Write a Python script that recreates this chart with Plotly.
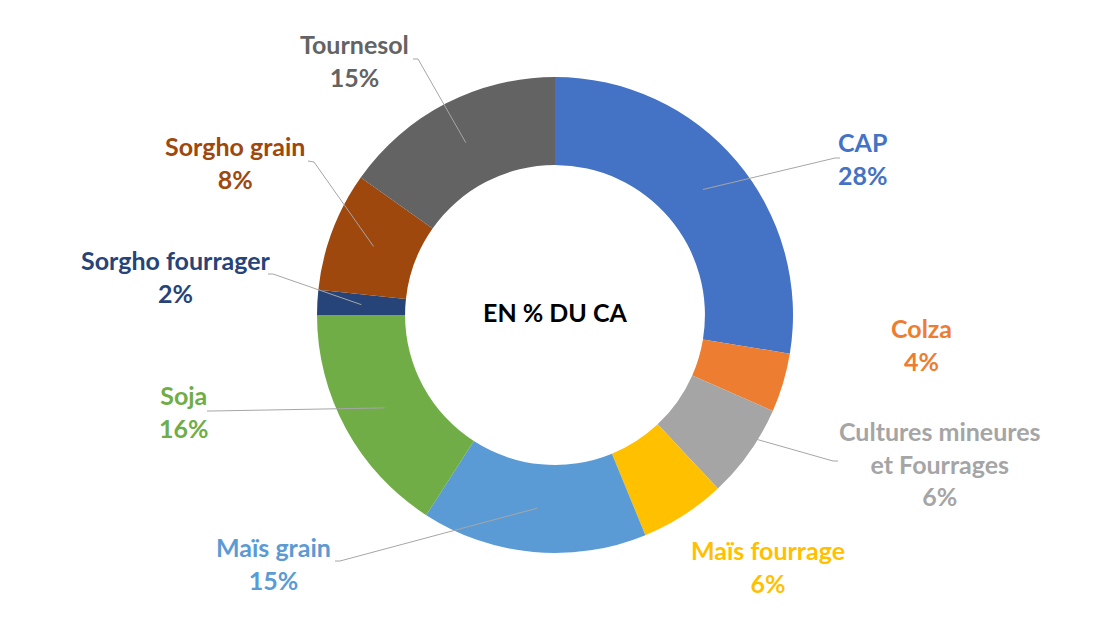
import math
import plotly.graph_objects as go

# ---- data ----
categories = ["CAP", "Colza", "Cultures mineures et Fourrages", "Maïs fourrage",
              "Maïs grain", "Soja", "Sorgho fourrager", "Sorgho grain", "Tournesol"]
label_text = ["CAP", "Colza", "Cultures mineures<br>et Fourrages", "Maïs fourrage",
              "Maïs grain", "Soja", "Sorgho fourrager", "Sorgho grain", "Tournesol"]
values = [27.6, 4.0, 6.4, 5.8, 15.3, 15.9, 1.7, 8.1, 15.2]
colors = ["#4472C4", "#ED7D31", "#A5A5A5", "#FFC000", "#5B9BD5",
          "#70AD47", "#264478", "#9E480E", "#636363"]
center_title = "EN % DU CA"

# ---- layout constants (pixels) ----
W, H = 1100, 619
CX, CY, R_OUT = 555, 315, 238
HOLE = 0.63
R_MID = R_OUT * (1 + HOLE) / 2

# text block centers
label_pos = [(863, 158), (921, 344), (940, 463), (768, 566), (273, 563),
             (184, 411), (176, 276), (235, 163), (354, 60)]
# leader start (label side) and stub end; None = no leader
leader = [((840, 158), (835, 158)), None, ((838, 461), (833, 461)), None,
          ((335, 561), (340, 561)), ((207, 411), (212, 411)),
          ((268, 274), (273, 274)), ((308, 161), (314, 162)),
          ((413, 59), (418, 59))]


def px(x, y):
    return x / W, 1 - y / H


fig = go.Figure(go.Pie(
    labels=categories, values=values, hole=HOLE, sort=False,
    direction="clockwise", rotation=0,
    marker=dict(colors=colors, line=dict(width=0)),
    textinfo="none", hoverinfo="label+percent", showlegend=False,
    domain=dict(x=[(CX - R_OUT) / W, (CX + R_OUT) / W],
                y=[1 - (CY + R_OUT) / H, 1 - (CY - R_OUT) / H]),
))

total = sum(values)
shapes = []
annotations = []
cum = 0.0
for i, v in enumerate(values):
    mid = (cum + v / 2) / total
    cum += v
    th = 2 * math.pi * mid
    ax_, ay_ = CX + R_MID * math.sin(th), CY - R_MID * math.cos(th)
    pct = round(100 * v / total)
    lx, ly = label_pos[i]
    x, y = px(lx, ly)
    annotations.append(dict(
        x=x, y=y, xref="paper", yref="paper", xanchor="center", yanchor="middle",
        showarrow=False, align="center",
        text=f"{label_text[i]}<br>{pct}%",
        font=dict(family="Lato", size=25, color=colors[i], weight="bold"),
    ))
    if leader[i] is not None:
        (sx, sy), (tx, ty) = leader[i]
        p = [px(sx, sy), px(tx, ty), px(ax_, ay_)]
        path = "M {} {} L {} {} L {} {}".format(p[0][0], p[0][1], p[1][0], p[1][1], p[2][0], p[2][1])
        shapes.append(dict(type="path", xref="paper", yref="paper", path=path,
                           line=dict(color="#A6A6A6", width=1)))

annotations.append(dict(
    x=CX / W, y=1 - 312 / H, xref="paper", yref="paper", xanchor="center", yanchor="middle",
    showarrow=False, text=center_title,
    font=dict(family="Lato", size=25, color="#000000", weight="bold"),
))

fig.update_layout(
    width=W, height=H, margin=dict(l=0, r=0, t=0, b=0),
    paper_bgcolor="white", plot_bgcolor="white",
    shapes=shapes, annotations=annotations,
)

fig.write_html("out.html")
